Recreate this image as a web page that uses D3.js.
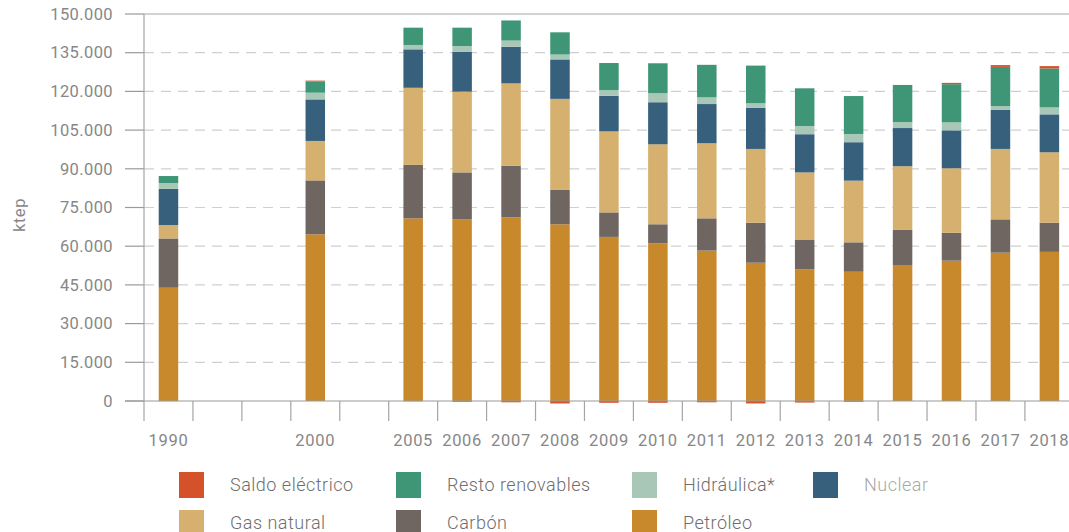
<!DOCTYPE html>
<html>
<head>
<meta charset="utf-8">
<script src="https://d3js.org/d3.v7.min.js"></script>
<style>
  body { margin: 0; background: #fff; }
  text { font-family: Roboto, "DejaVu Sans", sans-serif; }
</style>
</head>
<body>
<div id="vis"></div>
<script>
  // years with data, and the slots on the x axis (blank slots keep the gaps)
  var years = ["1990","2000","2005","2006","2007","2008","2009","2010","2011","2012","2013","2014","2015","2016","2017","2018"]
  var slots = ["1990","_a","_b","2000","_c","2005","2006","2007","2008","2009","2010","2011","2012","2013","2014","2015","2016","2017","2018"]

  // ktep
  var petroleo   = [43900,64600,70800,70500,71200,68500,63600,61100,58300,53600,51000,50100,52700,54400,57500,57800]
  var carbon     = [19100,20900,20700,18100,20000,13300,9500,7400,12500,15500,11400,11400,13600,10800,12900,11300]
  var gasNatural = [5200,15300,29900,31300,31900,35300,31400,31000,29100,28600,26200,23900,24700,25000,27300,27300]
  var nuclear    = [14000,16100,14900,15500,14200,15300,13800,16300,15200,16000,14800,14900,14800,14700,15100,14700]
  var hidraulica = [2300,2600,1700,2200,2400,1900,2200,3500,2600,1700,3200,3200,2300,3100,1500,2700]
  var resto      = [2700,4300,6700,7100,7800,8600,10500,11600,12600,14600,14600,14700,14400,14800,15200,15100]
  var saldo      = [-40,380,-100,-300,-500,-950,-700,-700,-500,-950,-600,-300,0,500,700,900]

  var yTicks = [0,15000,30000,45000,60000,75000,90000,105000,120000,135000,150000]

  // stack order, bottom to top
  var keys = ["Petróleo","Carbón","Gas natural","Nuclear","Hidráulica*","Resto renovables","Saldo eléctrico"]
  var seriesData = {
    "Petróleo": petroleo, "Carbón": carbon, "Gas natural": gasNatural, "Nuclear": nuclear,
    "Hidráulica*": hidraulica, "Resto renovables": resto, "Saldo eléctrico": saldo
  }
  var colors = {
    "Saldo eléctrico": "#d4512a", "Resto renovables": "#3f9677", "Hidráulica*": "#a8c7b7",
    "Nuclear": "#37607c", "Gas natural": "#d6b06f", "Carbón": "#6f6661", "Petróleo": "#c8892c"
  }

  var table = years.map(function(y, i) {
    var row = {year: y}
    keys.forEach(function(k) { row[k] = seriesData[k][i] })
    return row
  })

  var width = 1069, height = 532
  var plotLeft = 144, plotTop = 14, plotBottom = 401

  var svg = d3.select("#vis").append("svg")
    .attr("width", width)
    .attr("height", height)

  var x = d3.scaleBand()
    .domain(slots)
    .range([plotLeft, plotLeft + 19 * 48.94])
    .padding(0)

  var y = d3.scaleLinear()
    .domain([0, 150000])
    .range([plotBottom, plotTop])

  var fmt = function(d) { return d3.format(",")(d).replace(/,/g, ".") }

  // grid lines (dashed) and short solid ticks on the left
  var grid = svg.append("g")
  grid.selectAll("line.g")
    .data(yTicks.filter(function(d) { return d != 0 && d != 150000 }))
    .enter().append("line")
      .attr("x1", plotLeft).attr("x2", width)
      .attr("y1", function(d) { return y(d) }).attr("y2", function(d) { return y(d) })
      .attr("stroke", "#cfcfcf")
      .attr("stroke-width", 1.2)
      .attr("stroke-dasharray", "10,7")
  grid.selectAll("line.t")
    .data(yTicks)
    .enter().append("line")
      .attr("x1", 125).attr("x2", plotLeft)
      .attr("y1", function(d) { return y(d) }).attr("y2", function(d) { return y(d) })
      .attr("stroke", "#9a9a9a")
      .attr("stroke-width", 1.2)
  // top line
  svg.append("line")
    .attr("x1", plotLeft).attr("x2", width)
    .attr("y1", y(150000)).attr("y2", y(150000))
    .attr("stroke", "#a5a5a5").attr("stroke-width", 1.2)

  svg.append("g")
    .selectAll("text")
    .data(yTicks)
    .enter().append("text")
      .attr("x", 113)
      .attr("y", function(d) { return y(d) })
      .attr("dy", "0.35em")
      .attr("text-anchor", "end")
      .attr("font-size", 16.5)
      .attr("letter-spacing", 0.4)
      .attr("fill", "#878787")
      .text(fmt)

  svg.append("text")
    .attr("transform", "translate(25,215) rotate(-90)")
    .attr("text-anchor", "middle")
    .attr("font-size", 16.5)
    .attr("letter-spacing", 0.6)
    .attr("fill", "#878787")
    .text("ktep")

  // bars
  var stack = d3.stack().keys(keys).offset(d3.stackOffsetDiverging)
  var stacked = stack(table)
  var barW = 19.5

  svg.append("g").selectAll("g")
    .data(stacked)
    .enter().append("g")
      .attr("fill", function(d) { return colors[d.key] })
    .selectAll("rect")
    .data(function(d) { return d })
    .enter().append("rect")
      .attr("x", function(d) { return x(d.data.year) + x.bandwidth() / 2 - barW / 2 })
      .attr("y", function(d) { return y(Math.max(d[0], d[1])) })
      .attr("width", barW)
      .attr("height", function(d) { return Math.abs(y(d[0]) - y(d[1])) })

  // x axis
  svg.append("line")
    .attr("x1", 125).attr("x2", width)
    .attr("y1", plotBottom).attr("y2", plotBottom)
    .attr("stroke", "#9a9a9a").attr("stroke-width", 1.2)
  svg.append("line")
    .attr("x1", plotLeft).attr("x2", plotLeft)
    .attr("y1", plotTop).attr("y2", 421)
    .attr("stroke", "#a5a5a5").attr("stroke-width", 1.2)
  svg.append("g").selectAll("line")
    .data(slots.slice(1))
    .enter().append("line")
      .attr("x1", function(d) { return x(d) }).attr("x2", function(d) { return x(d) })
      .attr("y1", plotBottom).attr("y2", 421)
      .attr("stroke", "#a5a5a5").attr("stroke-width", 1.2)
  svg.append("g").selectAll("text")
    .data(slots.filter(function(d) { return d[0] != "_" }))
    .enter().append("text")
      .attr("x", function(d) { return x(d) + x.bandwidth() / 2 })
      .attr("y", 446)
      .attr("text-anchor", "middle")
      .attr("font-size", 16.5)
      .attr("letter-spacing", 0.7)
      .attr("fill", "#878787")
      .text(function(d) { return d })

  // legend
  var legendItems = [
    {key: "Saldo eléctrico", x: 179, y: 472},
    {key: "Resto renovables", x: 396, y: 472},
    {key: "Hidráulica*", x: 632, y: 472},
    {key: "Nuclear", x: 813, y: 472},
    {key: "Gas natural", x: 179, y: 510},
    {key: "Carbón", x: 396, y: 510},
    {key: "Petróleo", x: 632, y: 510}
  ]
  var lg = svg.append("g").selectAll("g")
    .data(legendItems)
    .enter().append("g")
      .attr("transform", function(d) { return "translate(" + d.x + "," + d.y + ")" })
  lg.append("rect")
    .attr("width", 25).attr("height", 26)
    .attr("fill", function(d) { return colors[d.key] })
  lg.append("text")
    .attr("x", 51).attr("y", 13)
    .attr("dy", "0.35em")
    .attr("font-size", 18)
    .attr("font-weight", 300)
    .attr("letter-spacing", 0.5)
    .attr("fill", function(d) { return d.key == "Nuclear" ? "#a8a8a8" : "#6e6e6e" })
    .text(function(d) { return d.key })
</script>
</body>
</html>
